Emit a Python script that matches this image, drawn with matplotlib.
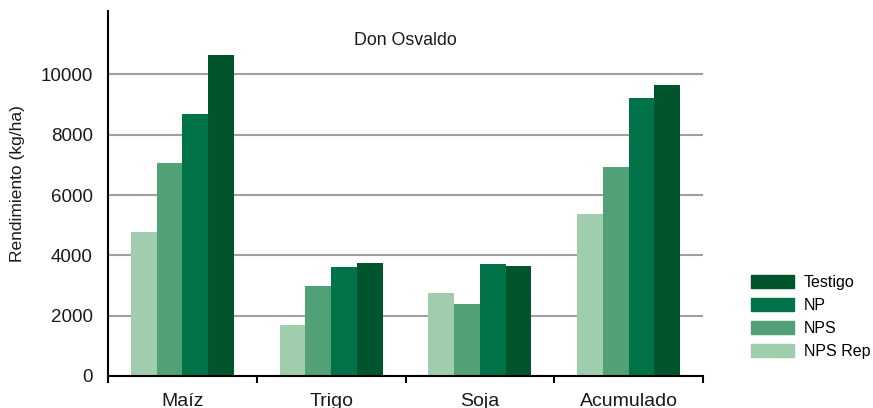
import matplotlib
matplotlib.use("Agg")
import matplotlib.pyplot as plt
import numpy as np
from matplotlib.patches import Patch

plt.rcParams['font.family'] = ['Liberation Sans', 'DejaVu Sans']

categories = ["Maíz", "Trigo", "Soja", "Acumulado"]
series_names = ["NPS Rep", "NPS", "NP", "Testigo"]
nps_rep = [4780, 1700, 2760, 5380]
nps = [7050, 3000, 2400, 6930]
np_vals = [8680, 3620, 3700, 9200]
testigo = [10650, 3760, 3640, 9650]
colors = ["#A0CDAD", "#52A075", "#007448", "#01552C"]
yticks = [0, 2000, 4000, 6000, 8000, 10000]

fig = plt.figure(figsize=(8.73, 4.08), dpi=100)
ax = fig.add_axes([108/873, 1-376/408, (703-108)/873, (376-11)/408])

data = [nps_rep, nps, np_vals, testigo]
x = np.arange(len(categories))
w = 0.173
for i, (vals, c) in enumerate(zip(data, colors)):
    ax.bar(x + (i - 1.5) * w, vals, width=w, color=c, zorder=3, label=series_names[i])

ax.set_xlim(-0.5, len(categories) - 0.5)
ax.set_ylim(0, 12100)
ax.set_yticks(yticks)
ax.set_yticklabels([str(v) for v in yticks], fontsize=13.5)
ax.yaxis.grid(True, color="#A0A0A0", linewidth=1.5, zorder=0)
ax.tick_params(axis='y', length=0, pad=11, colors="#1a1a1a")

ax.set_xticks(np.arange(-0.5, len(categories) + 0.5, 1))
ax.set_xticklabels([])
ax.set_xticks(x, minor=True)
ax.set_xticklabels(categories, minor=True, fontsize=14, color="#1a1a1a")
ax.tick_params(axis='x', which='major', length=5, width=1.5, direction='out')
ax.tick_params(axis='x', which='minor', length=0, pad=12)

for s in ['top', 'right']:
    ax.spines[s].set_visible(False)
ax.spines['left'].set_linewidth(1.5)
ax.spines['bottom'].set_linewidth(1.5)
ax.spines['left'].set_zorder(4)
ax.spines['bottom'].set_zorder(4)

ax.set_ylabel("Rendimiento (kg/ha)", fontsize=12.5, color="#1a1a1a")
ax.yaxis.set_label_coords(-0.14, 0.526)
ax.text(0.5, 0.92, "Don Osvaldo", transform=ax.transAxes, ha='center', va='center',
        fontsize=12.8, color="#1a1a1a")

handles = [Patch(color=c) for c in colors[::-1]]
fig.legend(handles, series_names[::-1], loc='upper left', bbox_to_anchor=(751/873, 1-275/408),
           frameon=False, fontsize=11.5, handlelength=2.7, handleheight=0.85,
           handletextpad=0.62, labelspacing=0.5, borderpad=0, borderaxespad=0)

fig.savefig("out.png", dpi=100)
